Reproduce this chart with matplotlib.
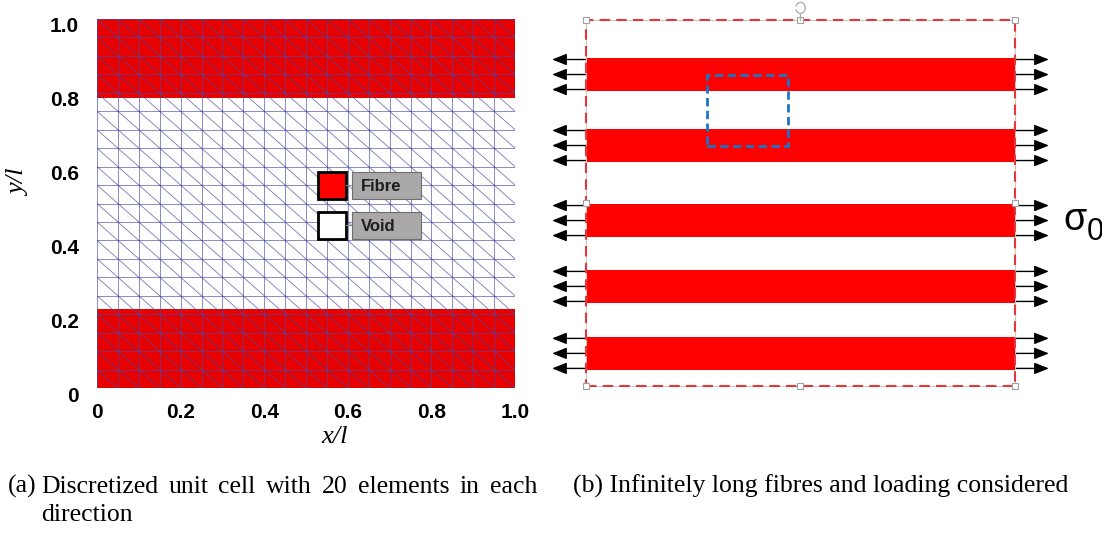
import numpy as np
import matplotlib.pyplot as plt
import matplotlib.transforms as mtransforms
from matplotlib.patches import Rectangle, Arc

# ---- left panel: discretized unit cell ----
n_elem = 20
fibre_bands = [(0.0, 0.215), (0.785, 1.0)]   # y-ranges occupied by fibre
tick_values = [0, 0.2, 0.4, 0.6, 0.8, 1.0]
tick_labels = ['0', '0.2', '0.4', '0.6', '0.8', '1.0']
legend_items = ['Fibre', 'Void']
legend_colors = ['#ff0000', '#ffffff']

# ---- right panel: fibres and loading ----
fibre_centres = [0.851, 0.657, 0.452, 0.272, 0.089]
fibre_height = 0.09
fibre_length = 1.0
arrow_offsets = [0.041, 0.0, -0.041]
arrow_length = 0.079
unit_cell = (0.282, 0.657, 0.189, 0.194)   # x0, y0, width, height

caption_a = ['(a)', 'Discretized unit cell with 20 elements in each',
             'direction']
caption_b = '(b) Infinitely long fibres and loading considered'

W, H = 1102, 534
fig = plt.figure(figsize=(W / 100, H / 100), dpi=100)


def px_box(x0, y0, x1, y1):
    """pixel box (top-left origin) -> figure fraction rect"""
    return [x0 / W, 1 - y1 / H, (x1 - x0) / W, (y1 - y0) / H]


# ================= left panel =================
ax = fig.add_axes(px_box(97, 19, 515, 388))
ax.set_xlim(0, 1)
ax.set_ylim(0, 1)

for y0, y1 in fibre_bands:
    ax.axhspan(y0, y1, color='#e60000', lw=0, zorder=1)

mesh_col = '#4a4aa8'
h = 1.0 / n_elem
edges = np.linspace(0, 1, n_elem + 1)
for e in edges:
    ax.plot([e, e], [0, 1], color=mesh_col, lw=0.6, alpha=0.75, zorder=2)
    ax.plot([0, 1], [e, e], color=mesh_col, lw=0.6, alpha=0.75, zorder=2)
# diagonals of each element, top-left to bottom-right
for i in range(n_elem):
    for j in range(n_elem):
        ax.plot([i * h, (i + 1) * h], [(j + 1) * h, j * h],
                color=mesh_col, lw=0.6, alpha=0.75, zorder=2)

for s in ax.spines.values():
    s.set_visible(False)
ax.set_xticks(tick_values)
ax.set_xticklabels(tick_labels)
ax.set_yticks(tick_values)
ax.set_yticklabels(tick_labels)
ax.tick_params(length=0, labelsize=15, pad=11)
ax.tick_params(axis='y', pad=13)
for lab in ax.get_xticklabels() + ax.get_yticklabels():
    lab.set_fontweight('bold')
    lab.set_family('Liberation Sans')
shift = mtransforms.ScaledTranslation(0, -0.06, fig.dpi_scale_trans)
for lab in ax.get_yticklabels():
    lab.set_transform(lab.get_transform() + shift)

fig.text(335 / W, 1 - 437 / H, 'x/l', family='Liberation Serif',
         style='italic', fontsize=19, ha='center', va='center')
fig.text(19 / W, 1 - 183 / H, 'y/l', family='Liberation Serif',
         style='italic', fontsize=19, ha='center', va='center', rotation=90)

# legend drawn as boxes
sq_x, sq_w = 0.529, 0.067
lab_x, lab_w = 0.610, 0.165
row_y = [0.512, 0.404]
row_h = 0.074
for name, col, y in zip(legend_items, legend_colors, row_y):
    ax.add_patch(Rectangle((sq_x, y), sq_w, row_h, transform=ax.transAxes,
                           facecolor=col, edgecolor='black', lw=2, zorder=5))
    ax.add_patch(Rectangle((lab_x, y), lab_w, row_h, transform=ax.transAxes,
                           facecolor='#aaa8a8', edgecolor='#6e6e6e', lw=0.8,
                           zorder=5))
    ax.plot([sq_x + sq_w, lab_x], [y + row_h / 2] * 2, color='#8a8a8a',
            lw=0.8, transform=ax.transAxes, zorder=5)
    ax.text(lab_x + 0.022, y + row_h / 2 - 0.004, name, transform=ax.transAxes,
            fontsize=12, fontweight='bold', family='Liberation Sans',
            color='#1e1e1e', va='center', ha='left', zorder=6)

# ================= right panel =================
bx = fig.add_axes([540 / W, 1 - 400 / H, 562 / W, 400 / H])
bx.set_xlim(-0.1072, 1.2028)
bx.set_ylim(-0.0383, 1.0546)
bx.axis('off')

bx.barh(fibre_centres, fibre_length, left=0, height=fibre_height,
        color='#ff0000', edgecolor='none', zorder=2)

arrow_style = dict(arrowstyle='-|>,head_length=0.55,head_width=0.22',
                   mutation_scale=16, color='black', lw=1.0,
                   shrinkA=0, shrinkB=0)
for c in fibre_centres:
    for d in arrow_offsets:
        y = c + d
        bx.annotate('', xy=(-arrow_length, y), xytext=(0, y),
                    arrowprops=arrow_style, zorder=3)
        bx.annotate('', xy=(fibre_length + arrow_length, y),
                    xytext=(fibre_length, y), arrowprops=arrow_style, zorder=3)

# selection outline with dashed red border and handles
bx.add_patch(Rectangle((0, 0), 1, 1, fill=False, edgecolor='#c8c8c8',
                       lw=0.8, zorder=4))
bx.add_patch(Rectangle((0, 0), 1, 1, fill=False, edgecolor='#e2383c',
                       lw=1.5, linestyle=(0, (5, 3)), zorder=5))
hx = [0, 0.5, 1, 0, 1, 0, 0.5, 1]
hy = [1, 1, 1, 0.5, 0.5, 0, 0, 0]
bx.plot(hx, hy, 's', ms=4, mfc='white', mec='#a0a0a0', mew=0.8,
        zorder=6, clip_on=False)
bx.plot([0.5, 0.5], [1.0, 1.02], color='#b0b0b0', lw=0.8, zorder=6)
bx.add_patch(Arc((0.5, 1.033), 0.022, 0.03, theta1=200, theta2=520,
                 color='#b0b0b0', lw=1.0, zorder=6))

ux, uy, uw, uh = unit_cell
bx.add_patch(Rectangle((ux, uy), uw, uh, fill=False, edgecolor='#1a75c8',
                       lw=2.0, linestyle=(0, (3, 1.6)), zorder=6))

fig.text(1063 / W, 1 - 220 / H, 'σ', family='Liberation Sans',
         fontsize=27, ha='left', va='center')
fig.text(1087 / W, 1 - 232 / H, '0', family='Liberation Sans',
         fontsize=22, ha='left', va='center')

# ================= captions =================
cap = dict(family='Liberation Serif', fontsize=18.5, va='baseline', ha='left')

# label hangs at the left; first text line is justified between x=41 and 537
fig.text(8 / W, 1 - 493 / H, caption_a[0], **cap)
renderer = fig.canvas.get_renderer()
words = caption_a[1].split(' ')
artists = [fig.text(0, 1 - 493 / H, w_, **cap) for w_ in words]
widths = [a.get_window_extent(renderer).width for a in artists]
gap = (537 - 41 - sum(widths)) / (len(words) - 1)
x = 41.0
for a, w_ in zip(artists, widths):
    a.set_x(x / W)
    x += w_ + gap
fig.text(41 / W, 1 - 521 / H, caption_a[2], **cap)
fig.text(573 / W, 1 - 493 / H, caption_b, **cap)

fig.savefig('out.png', dpi=100)
